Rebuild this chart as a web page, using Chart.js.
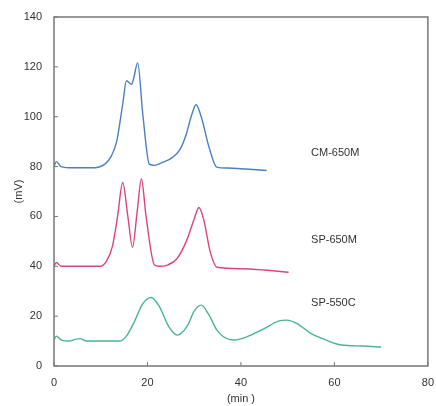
<!DOCTYPE html>
<html>
<head>
<meta charset="utf-8">
<script src="https://cdn.jsdelivr.net/npm/chart.js@4"></script>
<style>
  body { margin: 0; background: #fff; }
  #wrap { width: 436px; height: 406px; }
</style>
</head>
<body>
<div id="wrap"><canvas id="chrom" width="436" height="406"></canvas></div>
<script>
// chromatogram traces (x in min, y in mV)
const cmX = [0, 0.5, 1.5, 4, 8, 10.9, 12.2, 13.4, 14.7, 15.5, 16.6, 17.0, 17.9, 19.0, 20.4, 21.5, 23, 25.3, 27, 28.3, 29.5, 30.4, 31.5, 33.2, 34.8, 37, 41, 45.5];
const cmY = [80, 82, 80, 79.5, 79.5, 81, 84, 90, 105, 114.4, 113, 115, 121.6, 101, 81, 80.5, 81.5, 83.6, 87, 93, 101, 104.8, 100, 87.6, 79.8, 79.4, 79, 78.4];

const spmX = [0, 0.5, 1.5, 5, 9.8, 11.2, 12.5, 13.6, 14.7, 15.8, 16.8, 17.8, 18.7, 19.7, 21.5, 22.5, 24.3, 26.3, 28.3, 30, 31, 32, 33.4, 34.9, 40, 45, 50.2];
const spmY = [40, 41.5, 40, 40, 40, 42, 48, 60, 73.6, 60, 47.6, 62, 75, 60, 40.5, 40, 40.5, 43, 50, 59, 63.6, 59, 46, 39.6, 39, 38.5, 37.6];

const spcX = [0, 0.5, 1.5, 3, 5.5, 7, 14, 15.5, 17, 19, 20.8, 22.5, 24.5, 26.4, 28.5, 30, 31.5, 33, 35, 38.5, 41, 45, 48, 49.8, 52, 55, 57.2, 61.5, 66, 70];
const spcY = [10.5, 12, 10.5, 10, 11, 10, 10, 12, 17, 25, 27.5, 24, 16, 12.4, 16, 22, 24.4, 21, 14, 10.4, 11.5, 15, 18, 18.4, 17, 13, 11.2, 8.4, 8, 7.6];

const xTicks = [0, 20, 40, 60, 80];
const yTicks = [0, 20, 40, 60, 80, 100, 120, 140];

const seriesNames = ["CM-650M", "SP-650M", "SP-550C"];
const labelX = [55, 55, 55];
const labelY = [85.6, 50.4, 25.2];

const pts = (xs, ys) => xs.map((x, i) => ({ x: x, y: ys[i] }));

const axisColor = "#777";
const textColor = "#333";

// box around the plot, inward tick marks, and the series names
const framePlugin = {
  id: "frame",
  afterDraw(chart) {
    const { ctx, chartArea: a, scales } = chart;
    ctx.save();
    ctx.strokeStyle = axisColor;
    ctx.lineWidth = 1.5;
    ctx.strokeRect(a.left, a.top, a.right - a.left, a.bottom - a.top);
    ctx.lineWidth = 1;
    xTicks.forEach(v => {
      const px = scales.x.getPixelForValue(v);
      ctx.beginPath(); ctx.moveTo(px, a.bottom); ctx.lineTo(px, a.bottom - 4); ctx.stroke();
    });
    yTicks.forEach(v => {
      const py = scales.y.getPixelForValue(v);
      ctx.beginPath(); ctx.moveTo(a.left, py); ctx.lineTo(a.left + 4, py); ctx.stroke();
    });
    ctx.fillStyle = textColor;
    ctx.font = "11px 'Liberation Sans', Arial, sans-serif";
    ctx.textBaseline = "middle";
    seriesNames.forEach((n, i) => {
      ctx.fillText(n, scales.x.getPixelForValue(labelX[i]), scales.y.getPixelForValue(labelY[i]));
    });
    ctx.restore();
  }
};

const lineSet = (label, data, color) => ({
  label: label,
  data: data,
  borderColor: color,
  borderWidth: 1.4,
  pointRadius: 0,
  tension: 0.35,
  cubicInterpolationMode: "monotone",
  fill: false
});

new Chart(document.getElementById("chrom"), {
  type: "line",
  data: {
    datasets: [
      lineSet(seriesNames[0], pts(cmX, cmY), "#4a7fc4"),
      lineSet(seriesNames[1], pts(spmX, spmY), "#dc447f"),
      lineSet(seriesNames[2], pts(spcX, spcY), "#46b596")
    ]
  },
  options: {
    responsive: false,
    animation: false,
    layout: { padding: { left: 0, top: 17, right: 5, bottom: 0 } },
    plugins: { legend: { display: false }, tooltip: { enabled: false } },
    scales: {
      x: {
        type: "linear",
        min: 0, max: 80,
        afterBuildTicks: s => { s.ticks = xTicks.map(v => ({ value: v })); },
        afterFit: s => { s.height = 40; },
        grid: { display: false },
        border: { display: false },
        ticks: { color: textColor, padding: 2, font: { size: 11, family: "'Liberation Sans', Arial" } },
        title: { display: true, text: "(min )", color: textColor, padding: 0, font: { size: 11, family: "'Liberation Sans', Arial" } }
      },
      y: {
        min: 0, max: 140,
        afterBuildTicks: s => { s.ticks = yTicks.map(v => ({ value: v })); },
        afterFit: s => { s.width = 54; },
        grid: { display: false },
        border: { display: false },
        ticks: { color: textColor, padding: 4, font: { size: 11, family: "'Liberation Sans', Arial" } },
        title: { display: true, text: "(mV)", color: textColor, padding: { top: 12, bottom: 0 }, font: { size: 11, family: "'Liberation Sans', Arial" } }
      }
    }
  },
  plugins: [framePlugin]
});
</script>
</body>
</html>
